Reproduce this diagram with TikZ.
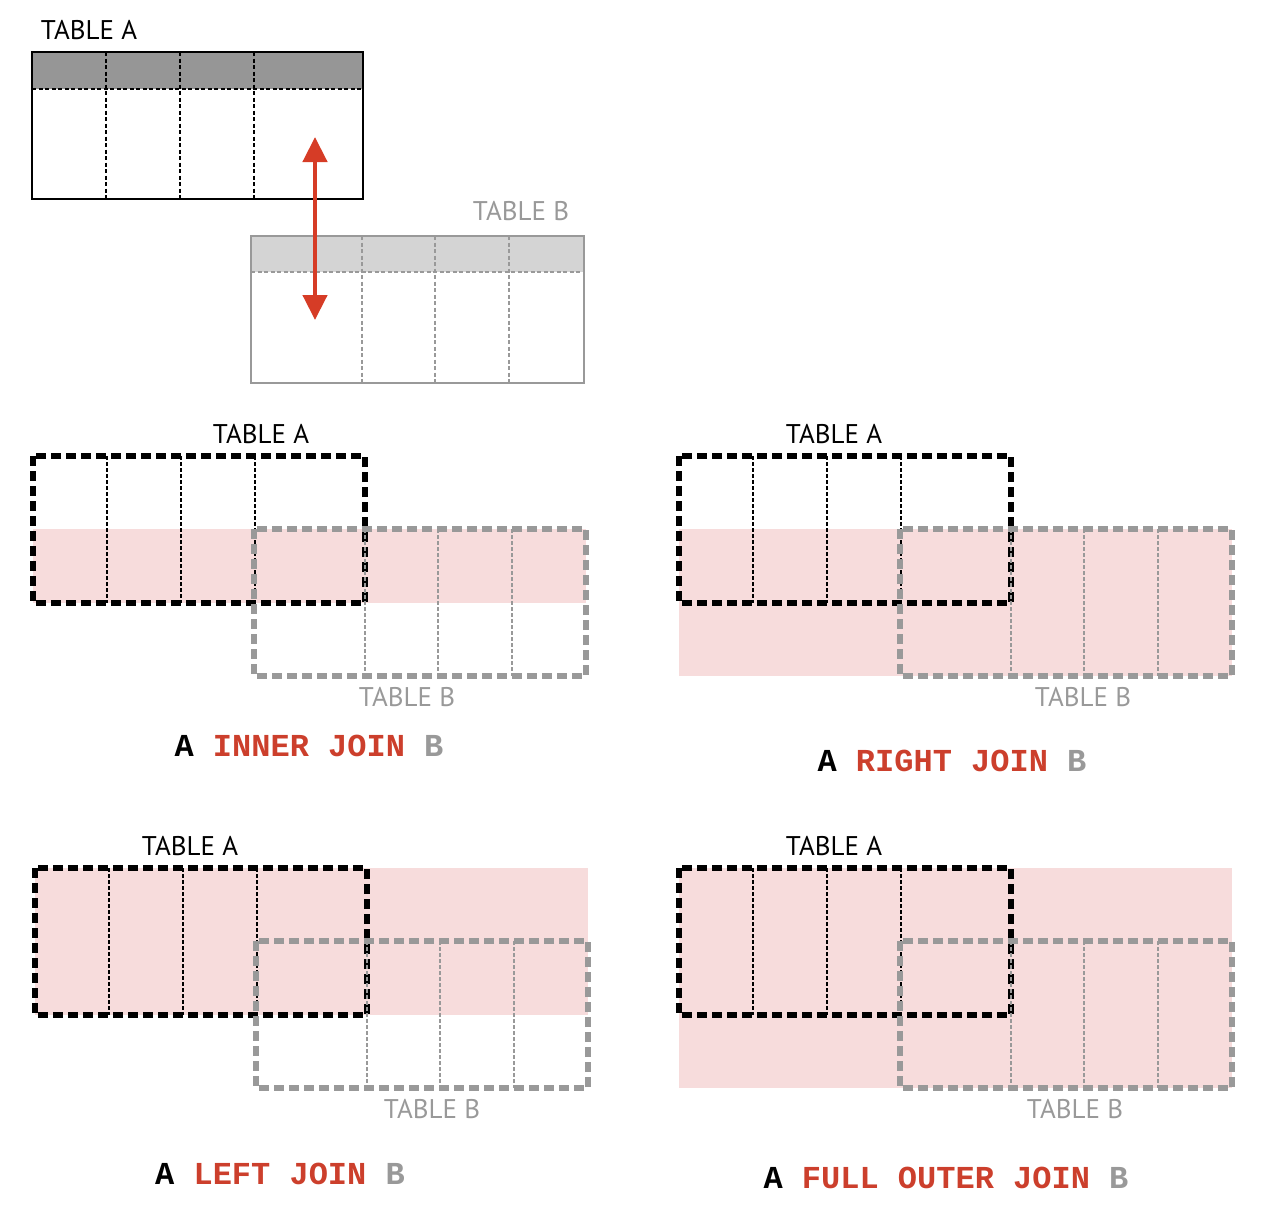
\documentclass[tikz,border=0pt]{standalone}
\usepackage{fontspec}
\usetikzlibrary{arrows.meta}
\newfontfamily\capfont{Liberation Mono}
\newfontfamily\handfont{PT Sans}
\definecolor{joinred}{HTML}{CC3F2C}
\definecolor{arrred}{HTML}{D63C26}
\definecolor{pinkfill}{HTML}{F7DCDC}
\definecolor{bgray}{HTML}{999999}
\definecolor{hdrA}{HTML}{969696}
\definecolor{hdrB}{HTML}{D4D4D4}
\tikzset{
  thickA/.style={draw=black,line width=5.5pt,dash pattern=on 10pt off 5pt},
  thinA/.style={draw=black,line width=2pt,dash pattern=on 3.5pt off 2.5pt},
  thickB/.style={draw=bgray,line width=5.5pt,dash pattern=on 10pt off 5pt},
  thinB/.style={draw=bgray,line width=2pt,dash pattern=on 3.5pt off 2.5pt},
  topdashA/.style={draw=black,line width=2.2pt,dash pattern=on 4pt off 2.5pt},
  topdashB/.style={draw=bgray,line width=2.2pt,dash pattern=on 4pt off 2.5pt},
  handA/.style={font=\handfont\fontsize{27}{30}\selectfont,text=black,inner sep=0pt},
  handB/.style={font=\handfont\fontsize{27}{30}\selectfont,text=bgray,inner sep=0pt},
  captionstyle/.style={font=\capfont\bfseries\fontsize{32}{36}\selectfont,inner sep=0pt},
}
\newcommand{\joinpanel}[7]{%
  \begin{scope}[shift={(#1,#2)}]
    \fill[pinkfill] (0,#3) rectangle (553,#4);
    \draw[thickA] (0,0) rectangle (332,147);
    \foreach \xx in {74,148,222} \draw[thinA] (\xx,0) -- (\xx,147);
    \draw[thickB] (221,73) rectangle (553,220);
    \foreach \xx in {111,184,258} \draw[thinB] (221+\xx,73) -- (221+\xx,220);
    \node[handA] (#7a) at (#5,-22) {TABLE A};
    \node[handB] (#7b) at (#6,241) {TABLE B};
  \end{scope}}
\begin{document}
\begin{tikzpicture}[x=1pt,y=-1pt]
\useasboundingbox (0,0) rectangle (1280,1216);
% ---- top: two tables ----
\fill[hdrA] (32,52) rectangle (363,89);
\draw[topdashA] (32,89) -- (363,89);
\foreach \xx in {106,180,254} \draw[topdashA] (\xx,52) -- (\xx,199);
\draw[black,line width=2.8pt] (32,52) rectangle (363,199);
\node[handA] (ta) at (89,30) {TABLE A};
\fill[hdrB] (251,236) rectangle (584,272);
\draw[topdashB] (251,272) -- (584,272);
\foreach \xx in {362,435,509} \draw[topdashB] (\xx,236) -- (\xx,383);
\draw[bgray,line width=2.8pt] (251,236) rectangle (584,383);
\node[handB] (tb) at (521,211) {TABLE B};
\coordinate (arrtop) at (315,137);
\coordinate (arrbot) at (315,320);
\draw[arrred,line width=4.5pt,{Triangle[length=25pt,width=24pt]}-{Triangle[length=25pt,width=24pt]}] (arrtop) -- (arrbot);
% ---- panels ----
\joinpanel{33}{456}{73}{147}{228}{374}{inner}
\joinpanel{679}{456}{73}{220}{155}{404}{right}
\joinpanel{35}{868}{0}{147}{155}{397}{left}
\joinpanel{679}{868}{0}{220}{155}{396}{full}
% ---- captions ----
\node[captionstyle] (capinner) at (309,746) {A \textcolor{joinred}{INNER JOIN} \textcolor{bgray}{B}};
\node[captionstyle] (capright) at (952,761) {A \textcolor{joinred}{RIGHT JOIN} \textcolor{bgray}{B}};
\node[captionstyle] (capleft) at (280,1174) {A \textcolor{joinred}{LEFT JOIN} \textcolor{bgray}{B}};
\node[captionstyle] (capfull) at (946,1178) {A \textcolor{joinred}{FULL OUTER JOIN} \textcolor{bgray}{B}};
\end{tikzpicture}
\end{document}
